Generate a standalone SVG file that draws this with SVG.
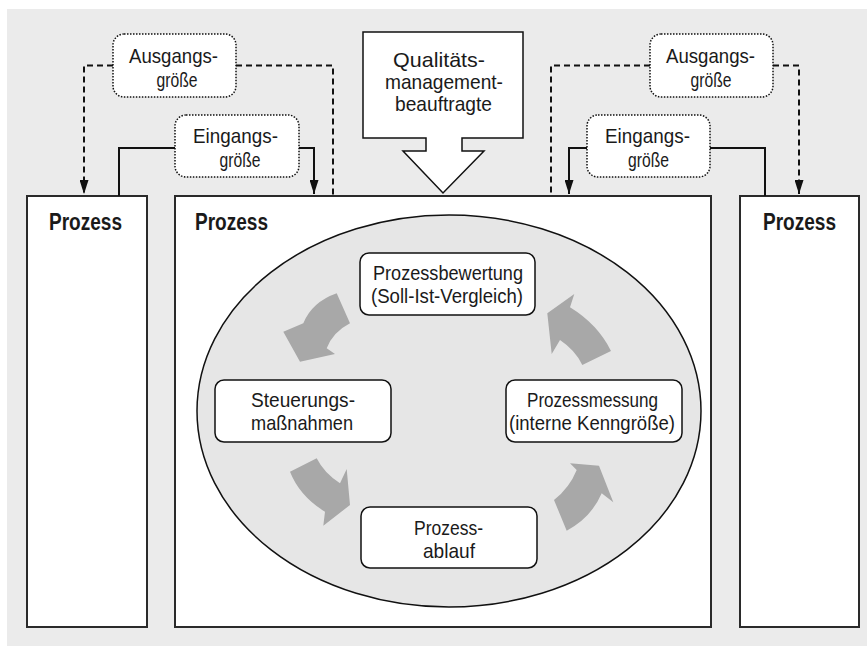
<svg xmlns="http://www.w3.org/2000/svg" width="867" height="646" viewBox="0 0 867 646">
<defs>
<style>
.t{font-family:"Liberation Sans",Arial,sans-serif;font-size:21px;fill:#1a1a1a;text-anchor:middle}
.b{font-family:"Liberation Sans",Arial,sans-serif;font-size:23px;font-weight:bold;fill:#1a1a1a}
.proc{fill:#fff;stroke:#2a2a2a;stroke-width:2}
.box{fill:#fff;stroke:#111;stroke-width:1.5}
.dot{fill:#fff;stroke:#111;stroke-width:1.5;stroke-dasharray:1.5 1.5}
.dash{fill:none;stroke:#111;stroke-width:2;stroke-dasharray:6 4}
.solid{fill:none;stroke:#111;stroke-width:2}
.cyc{fill:#a8a8a8}
</style>
<marker id="ah" markerUnits="userSpaceOnUse" markerWidth="14" markerHeight="9" refX="14" refY="4.5" orient="auto">
<path d="M0,0 L14,4.5 L0,9 Z" fill="#111"/>
</marker>
</defs>
<rect x="7" y="9" width="860" height="637" fill="#ebebeb"/>

<g id="proc-left">
<rect class="proc" x="27" y="196" width="120" height="431"/>
<text class="b" x="49" y="230" textLength="73" lengthAdjust="spacingAndGlyphs">Prozess</text>
</g>
<g id="proc-main">
<rect class="proc" x="175" y="196" width="536" height="431"/>
<text class="b" x="195" y="230" textLength="73" lengthAdjust="spacingAndGlyphs">Prozess</text>
</g>
<g id="proc-right">
<rect class="proc" x="740" y="196" width="119" height="431"/>
<text class="b" x="763" y="230" textLength="73" lengthAdjust="spacingAndGlyphs">Prozess</text>
</g>

<g id="cycle">
<ellipse cx="449" cy="411" rx="252" ry="196" fill="#e6e6e6" stroke="#111" stroke-width="1.5"/>
</g>

<g id="qm">
<path class="box" d="M363,32 H523 V138 H462 V151 H484 L443,193 L403,151 H426 V138 H363 Z"/>
<text class="t" x="439" y="67" textLength="92" lengthAdjust="spacingAndGlyphs">Qualitäts-</text>
<text class="t" x="444" y="89" textLength="118" lengthAdjust="spacingAndGlyphs">management-</text>
<text class="t" x="443.5" y="111" textLength="97" lengthAdjust="spacingAndGlyphs">beauftragte</text>
</g>

<g id="connectors">
<path class="dash" d="M113,65.5 H84 V194" marker-end="url(#ah)"/>
<path class="dash" d="M236,65.5 H333 V196"/>
<path class="dash" d="M650,65.5 H551 V196"/>
<path class="dash" d="M773,65.5 H799 V194" marker-end="url(#ah)"/>
<path class="solid" d="M119,196 V148 H175"/>
<path class="solid" d="M299,148 H314 V194" marker-end="url(#ah)"/>
<path class="solid" d="M587,148 H569 V194" marker-end="url(#ah)"/>
<path class="solid" d="M710,148 H765 V196"/>
<path class="cyc" d="M336.7,293.3 Q312,302 303.3,323.3 L283.3,331.7 L300,361.7 L335,354 L326.7,348.3 Q333,332 350,323.3 Z"/>
<path class="cyc" d="M611,351 Q598,324.5 570,307.3 L574.3,294 L547.3,313.3 L551.7,354 L560,340 Q575.5,350.4 582.3,365 Z"/>
<path class="cyc" d="M290,471.7 Q299.7,496.2 325,511.7 L323.3,525.7 L350,505 L346.7,469 L340,483.3 Q324,473 316.7,458.3 Z"/>
<path class="cyc" d="M554,500 Q569.6,487.7 576.7,470 L570,463.3 L599,465.7 L613.3,502.3 L601.7,493.3 Q591.4,517.4 566.7,530.7 Z"/>
</g>

<g id="out-left">
<rect class="dot" x="113" y="34" width="123" height="63" rx="11"/>
<text class="t" x="173.5" y="63" textLength="89" lengthAdjust="spacingAndGlyphs">Ausgangs-</text>
<text class="t" x="177" y="87" textLength="41" lengthAdjust="spacingAndGlyphs">größe</text>
</g>
<g id="in-left">
<rect class="dot" x="175" y="115" width="124" height="62" rx="11"/>
<text class="t" x="235.5" y="143" textLength="85" lengthAdjust="spacingAndGlyphs">Eingangs-</text>
<text class="t" x="240" y="167" textLength="41" lengthAdjust="spacingAndGlyphs">größe</text>
</g>
<g id="out-right">
<rect class="dot" x="650" y="34" width="123" height="63" rx="11"/>
<text class="t" x="710.5" y="63" textLength="89" lengthAdjust="spacingAndGlyphs">Ausgangs-</text>
<text class="t" x="711" y="87" textLength="41" lengthAdjust="spacingAndGlyphs">größe</text>
</g>
<g id="in-right">
<rect class="dot" x="587" y="115" width="123" height="62" rx="11"/>
<text class="t" x="647.5" y="143" textLength="85" lengthAdjust="spacingAndGlyphs">Eingangs-</text>
<text class="t" x="648.5" y="167" textLength="41" lengthAdjust="spacingAndGlyphs">größe</text>
</g>

<g id="eval">
<rect class="box" x="360" y="253" width="175" height="62" rx="9"/>
<text class="t" x="448" y="280" textLength="150" lengthAdjust="spacingAndGlyphs">Prozessbewertung</text>
<text class="t" x="447" y="303" textLength="152" lengthAdjust="spacingAndGlyphs">(Soll-Ist-Vergleich)</text>
</g>
<g id="control">
<rect class="box" x="215" y="380" width="176" height="62" rx="9"/>
<text class="t" x="303" y="407" textLength="104" lengthAdjust="spacingAndGlyphs">Steuerungs-</text>
<text class="t" x="302" y="430" textLength="102" lengthAdjust="spacingAndGlyphs">maßnahmen</text>
</g>
<g id="measure">
<rect class="box" x="506" y="380" width="176" height="62" rx="9"/>
<text class="t" x="592.5" y="407" textLength="131" lengthAdjust="spacingAndGlyphs">Prozessmessung</text>
<text class="t" x="592" y="430" textLength="166" lengthAdjust="spacingAndGlyphs">(interne Kenngröße)</text>
</g>
<g id="flow">
<rect class="box" x="361" y="507" width="176" height="61" rx="9"/>
<text class="t" x="448.5" y="535" textLength="69" lengthAdjust="spacingAndGlyphs">Prozess-</text>
<text class="t" x="449" y="558" textLength="52" lengthAdjust="spacingAndGlyphs">ablauf</text>
</g>
</svg>
